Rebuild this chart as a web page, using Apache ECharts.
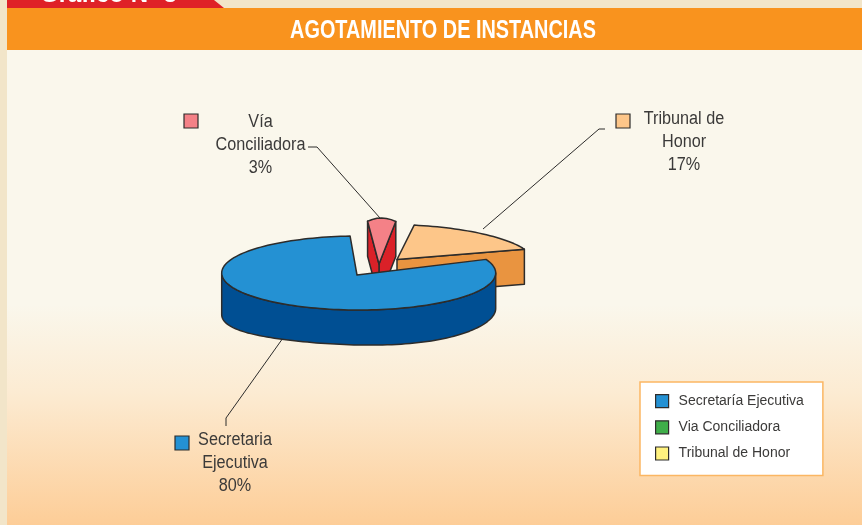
<!DOCTYPE html>
<html><head><meta charset="utf-8">
<style>html,body{margin:0;padding:0;background:#fff}#c{width:862px;height:525px}</style>
<script src="https://cdn.jsdelivr.net/npm/echarts@6/dist/echarts.min.js"></script>
</head><body><div id="c"></div>
<script>
// ---- data ----
const chartTitle = 'AGOTAMIENTO DE INSTANCIAS';
const tabText = 'Gráfico Nº 3';
const legendNames = ['Secretaría Ejecutiva', 'Via Conciliadora', 'Tribunal de Honor'];
const sliceValues = [80, 3, 17];
const sliceLabels = ['Secretaria\nEjecutiva\n80%', 'Vía\nConciliadora\n3%', 'Tribunal de\nHonor\n17%'];

// ---- styles / layout ----
const FONT = '"Liberation Sans",Arial,sans-serif';
const LINE = '#2d2c2b';
const legendColors = ['#2491D3', '#3FAE49', '#FFF27F'];
const topColors = ['#2491D3', '#F48187', '#FDC689'];
const wallColors = ['#004F93', '#DA2128', '#E99440'];
const sliceLayout = [
  {cx: 358.7, cy: 273, rx: 137, ry: 37, ax: -1.7, ay: 2, tilt: 0, bow: 0, bowAt: 0},
  {cx: 377, cy: 264, rx: 150, ry: 46, ax: 2, ay: 0, tilt: 0, bow: 0.016, bowAt: 4.7},
  {cx: 397, cy: 259.5, rx: 137, ry: 35, ax: 0, ay: 0, tilt: 0.02, bow: 0, bowAt: 0}
];
const labelLayout = [
  {x: 235, y: 463.5, sw: [175, 436], leader: [[226, 426], [226, 418], [283, 338]]},
  {x: 260.5, y: 145, sw: [184, 114], leader: [[308, 147], [317, 147], [380, 218]]},
  {x: 684, y: 142, sw: [616, 114], leader: [[605, 129], [599, 129], [483, 229]]}
];
const START = 21.6, DEPTH = 35;

// angular extents derived from the values, counter-clockwise from START: tribunal, via, secretaria
const total = sliceValues.reduce((a, b) => a + b, 0);
const sweep = sliceValues.map(v => v / total * 360);
const ang = [];
ang[2] = [START, START + sweep[2]];
ang[1] = [ang[2][1], ang[2][1] + sweep[1]];
ang[0] = [ang[1][1], ang[1][1] + sweep[0]];

function pt(L, deg) {
  const t = deg * Math.PI / 180, dx = L.rx * Math.cos(t);
  return [L.cx + dx, L.cy - L.ry * Math.sin(t) + L.tilt * dx + L.bow * (dx - L.bowAt) * (dx - L.bowAt)];
}
function arc(L, a, b) {
  const n = Math.max(2, Math.ceil(Math.abs(b - a) / 2)), out = [];
  for (let i = 0; i <= n; i++) out.push(pt(L, a + (b - a) * i / n));
  return out;
}
function poly(points, fill) {
  return {type: 'polygon', shape: {points},
    style: {fill, stroke: LINE, lineWidth: 1.5, lineJoin: 'round'}};
}
function blueDepth(x, L) {
  const u = (x - L.cx) / L.rx;
  return 35 + 2.6 * u + 3.5 * u * u - 5.6 * u * u * u;
}
function slice(idx) {
  return function (params, api) {
    const L = sliceLayout[idx], [a, b] = ang[idx];
    const apex = [L.cx + L.ax, L.cy + L.ay];
    const top = poly([apex].concat(arc(L, a, b)), topColors[idx]);
    const wall = wallColors[idx], kids = [];
    const LL = labelLayout[idx];
    kids.push({type: 'polyline', shape: {points: LL.leader},
      style: {fill: 'none', stroke: LINE, lineWidth: 1}});
    const d = p => [p[0], p[1] + DEPTH];
    if (idx === 0) {
      const front = arc(L, 180, 360);
      const bottom = front.map(p => [p[0], p[1] + blueDepth(p[0], L)]).reverse();
      kids.push(poly(front.concat(bottom), wall));
    } else {
      const A = pt(L, a), B = pt(L, b);
      kids.push(poly([apex, A, d(A), d(apex)], wall));
      if (idx === 1) kids.push(poly([apex, B, d(B), d(apex)], wall));
    }
    kids.push(top);
    kids.push({type: 'rect', shape: {x: LL.sw[0], y: LL.sw[1], width: 14, height: 14},
      style: {fill: topColors[idx], stroke: LINE, lineWidth: 1.2}});
    kids.push({type: 'text', x: LL.x, y: LL.y, scaleX: 0.9, style: {
      text: sliceLabels[idx], font: '18px ' + FONT, fill: '#3b3a39',
      align: 'center', verticalAlign: 'middle', lineHeight: 23}});
    return {type: 'group', children: kids};
  };
}

const chart = echarts.init(document.getElementById('c'), null, {renderer: 'canvas'});
chart.setOption({
  animation: false,
  backgroundColor: new echarts.graphic.LinearGradient(0, 0, 0, 1, [
    {offset: 0, color: '#FAF7EC'}, {offset: 0.58, color: '#FAF7EC'},
    {offset: 0.75, color: '#FCEBD2'}, {offset: 1, color: '#FDCD97'}]),
  legend: {
    orient: 'vertical', left: 640, top: 382, selectedMode: false,
    backgroundColor: '#fff', borderColor: '#FBB663', borderWidth: 1.5, borderRadius: 0,
    padding: [12, 19, 15, 15], itemWidth: 13, itemHeight: 13, itemGap: 12,
    textStyle: {fontFamily: FONT, fontSize: 14, color: '#3b3a39', padding: [0, 0, 0, 5]},
    data: legendNames.map((name, i) => ({name, icon: 'rect',
      itemStyle: {color: legendColors[i], borderColor: LINE, borderWidth: 1.2}}))
  },
  graphic: [
    {type: 'rect', silent: true, z: -1, shape: {x: 0, y: 0, width: 862, height: 8}, style: {fill: '#F2E5C9'}},
    {type: 'rect', silent: true, z: -1, shape: {x: 0, y: 0, width: 7, height: 525}, style: {fill: '#F2E5C9'}},
    {type: 'polygon', silent: true, z: -1, shape: {points: [[7, 0], [214, 0], [224, 8], [7, 8]]}, style: {fill: '#DF2127'}},
    {type: 'text', silent: true, z: 0, x: 40, y: 7, style: {text: tabText, font: 'bold 24px ' + FONT, fill: '#fff', verticalAlign: 'bottom'}},
    {type: 'rect', silent: true, z: 1, shape: {x: 7, y: 8, width: 855, height: 42}, style: {fill: '#F9931E'}},
    {type: 'text', silent: true, z: 2, x: 443, y: 31, scaleX: 0.795, style: {text: chartTitle, font: 'bold 25px ' + FONT, fill: '#fff', align: 'center', verticalAlign: 'middle'}}
  ],
  series: [1, 2, 0].map(i => ({
    type: 'custom', name: legendNames[i], coordinateSystem: 'none',
    data: [sliceValues[i]], renderItem: slice(i), silent: true,
    itemStyle: {color: legendColors[i]}
  }))
});
</script></body></html>
